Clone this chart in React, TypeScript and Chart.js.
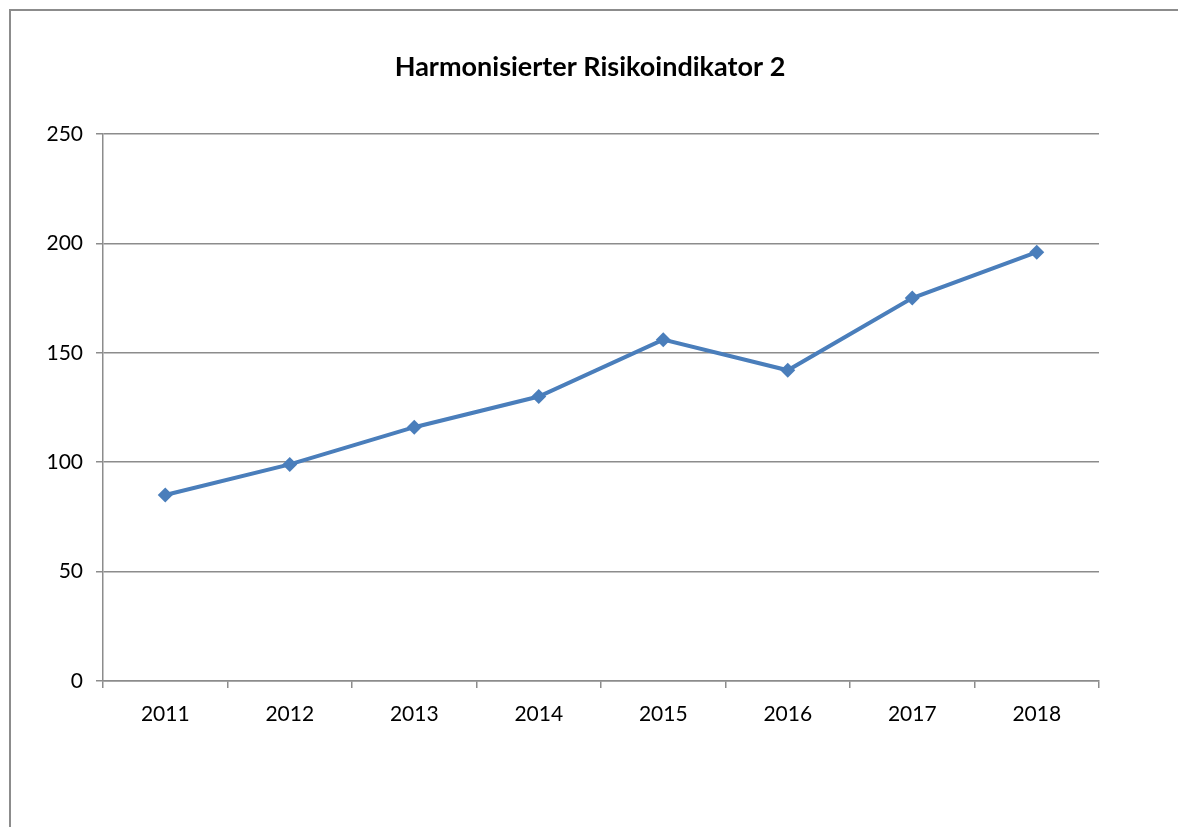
import React, { useEffect, useRef } from "react";
import { Chart, registerables } from "chart.js";

Chart.register(...registerables);

const categories = ["2011", "2012", "2013", "2014", "2015", "2016", "2017", "2018"];
const values = [85, 99, 116, 130, 156, 142, 175, 196];
const yTicks = [0, 50, 100, 150, 200, 250];
const titleText = "Harmonisierter Risikoindikator 2";

const FONT = "Lato, 'Open Sans', sans-serif";
const GRID = "#8c8c8c";
const BLUE = "#4a7ebb";

const titlePlugin = {
  id: "customTitle",
  afterDraw(chart: any) {
    const ctx = chart.ctx;
    ctx.save();
    ctx.font = `bold 27px ${FONT}`;
    ctx.fillStyle = "#000";
    ctx.textAlign = "center";
    ctx.textBaseline = "middle";
    ctx.fillText(titleText, 590, 67);
    ctx.restore();
  },
};

export default function App() {
  const ref = useRef<HTMLCanvasElement | null>(null);

  useEffect(() => {
    if (!ref.current) return;
    const chart = new Chart(ref.current, {
      type: "line",
      data: {
        labels: categories,
        datasets: [
          {
            data: values,
            borderColor: BLUE,
            backgroundColor: BLUE,
            borderWidth: 4,
            pointStyle: "rectRot",
            pointRadius: 7.5,
            pointHoverRadius: 7.5,
            pointBackgroundColor: BLUE,
            pointBorderColor: BLUE,
            pointBorderWidth: 0,
            tension: 0,
          },
        ],
      },
      plugins: [titlePlugin],
      options: {
        animation: false,
        responsive: false,
        devicePixelRatio: 1,
        layout: { padding: { left: 0, right: 79, top: 134, bottom: 0 } },
        plugins: {
          legend: { display: false },
          tooltip: { enabled: false },
          title: { display: false },
        },
        scales: {
          x: {
            offset: true,
            grid: {
              offset: true,
              drawOnChartArea: false,
              drawTicks: true,
              tickLength: 7,
              color: GRID,
              lineWidth: 1.5,
            },
            border: { display: true, color: GRID, width: 1.5 },
            ticks: {
              color: "#000",
              font: { family: FONT, size: 21 },
              padding: 14,
              maxRotation: 0,
            },
            afterFit: (s: any) => {
              s.height = 146;
            },
          },
          y: {
            min: 0,
            max: 250,
            afterBuildTicks: (s: any) => {
              s.ticks = yTicks.map((v) => ({ value: v }));
            },
            grid: {
              drawOnChartArea: true,
              drawTicks: true,
              tickLength: 7,
              color: GRID,
              lineWidth: 1.5,
            },
            border: { display: true, color: GRID, width: 1.5 },
            ticks: {
              color: "#000",
              font: { family: FONT, size: 21 },
              padding: 13,
            },
            afterFit: (s: any) => {
              s.width = 103;
            },
          },
        },
      },
    });
    return () => chart.destroy();
  }, []);

  return (
    <div style={{ position: "absolute", left: 0, top: 0, width: 1178, height: 827, overflow: "hidden", background: "#fff" }}>
      <div
        style={{
          position: "absolute",
          left: 9,
          top: 9,
          width: 1300,
          height: 1000,
          borderLeft: "2px solid #8c8c8c",
          borderTop: "2px solid #8c8c8c",
        }}
      />
      <canvas ref={ref} width={1178} height={827} style={{ position: "absolute", left: 0, top: 0, width: 1178, height: 827 }} />
    </div>
  );
}
